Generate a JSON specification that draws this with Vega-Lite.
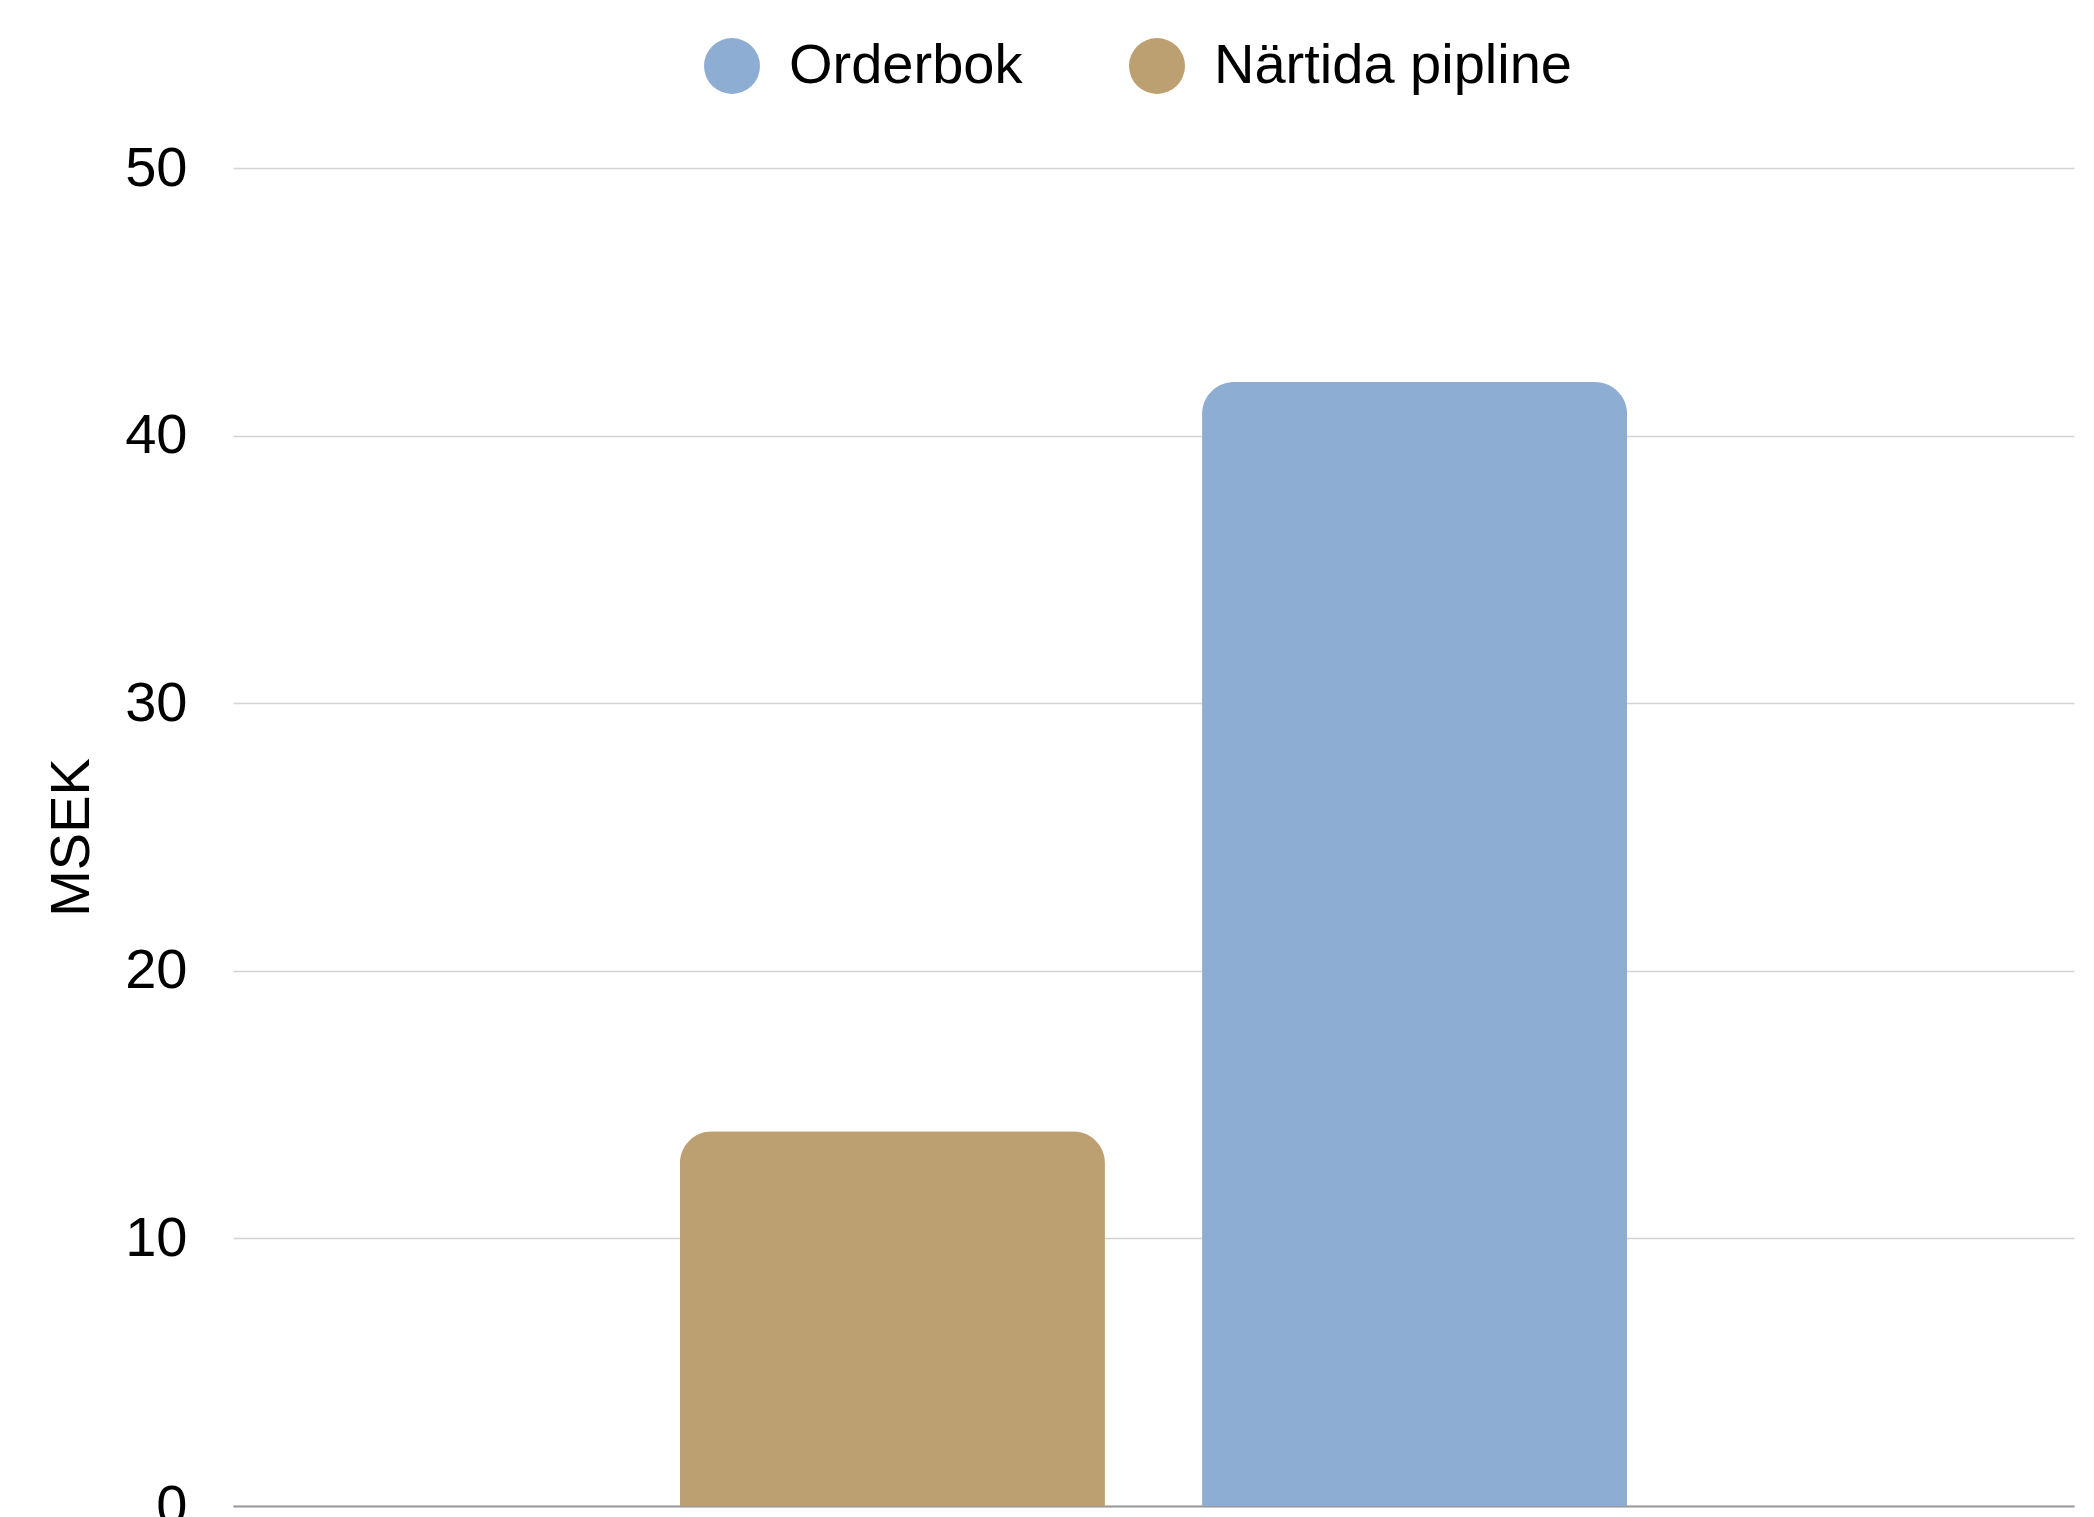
{
  "$schema": "https://vega.github.io/schema/vega-lite/v6.json",
  "autosize": {"type": "none"},
  "padding": {"left": 233, "top": 168, "right": 20, "bottom": 11},
  "width": 1841,
  "height": 1338,
  "background": "white",
  "config": {
    "font": "Liberation Sans",
    "view": {"stroke": null}
  },
  "data": {
    "values": [
      {"serie": "Närtida pipline", "msek": 14},
      {"serie": "Orderbok", "msek": 42}
    ]
  },
  "mark": {
    "type": "bar",
    "cornerRadiusTopLeft": 32,
    "cornerRadiusTopRight": 32
  },
  "encoding": {
    "x": {
      "field": "serie",
      "type": "nominal",
      "sort": ["Närtida pipline", "Orderbok"],
      "scale": {"paddingInner": 0.186, "paddingOuter": 0.856},
      "axis": {
        "title": null,
        "labels": false,
        "ticks": false,
        "domain": true,
        "domainColor": "#999999",
        "domainWidth": 2
      }
    },
    "y": {
      "field": "msek",
      "type": "quantitative",
      "scale": {"domain": [0, 50], "nice": false},
      "axis": {
        "values": [0, 10, 20, 30, 40, 50],
        "title": "MSEK",
        "titleFont": "Liberation Sans",
        "titleFontSize": 56,
        "titleFontWeight": "normal",
        "titleColor": "black",
        "titleAngle": -90,
        "titleAlign": "center",
        "titleBaseline": "alphabetic",
        "titleX": -145,
        "titleY": 669,
        "labelFont": "Liberation Sans",
        "labelFontSize": 56,
        "labelColor": "black",
        "labelPadding": 46,
        "tickSize": 0,
        "ticks": false,
        "domain": false,
        "grid": true,
        "gridColor": "#d3d3d3",
        "gridWidth": 1.5
      }
    },
    "color": {
      "field": "serie",
      "type": "nominal",
      "scale": {
        "domain": ["Orderbok", "Närtida pipline"],
        "range": ["#8DADD3", "#BDA071"]
      },
      "legend": {
        "title": null,
        "orient": "none",
        "direction": "horizontal",
        "legendX": 471,
        "legendY": -130,
        "symbolType": "circle",
        "symbolSize": 3136,
        "symbolStrokeWidth": 0,
        "symbolOpacity": 1,
        "labelFont": "Liberation Sans",
        "labelFontSize": 56,
        "labelColor": "black",
        "labelLimit": 1000,
        "labelOffset": 29,
        "columnPadding": 106
      }
    }
  }
}
